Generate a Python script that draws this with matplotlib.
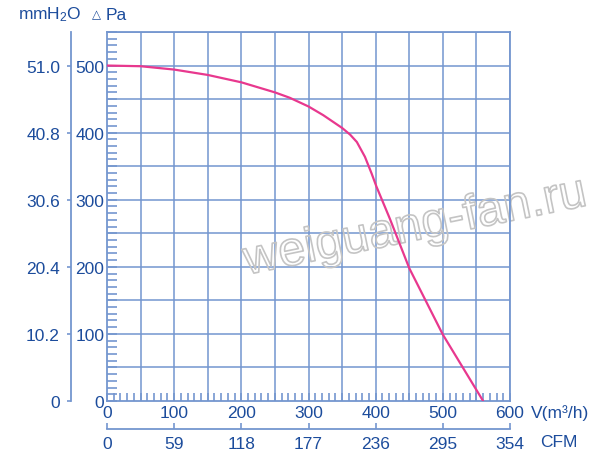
import matplotlib
matplotlib.use("Agg")
import matplotlib.pyplot as plt
import matplotlib.patheffects as pe
import numpy as np

plt.rcParams['font.family'] = ['Liberation Sans', 'DejaVu Sans']
plt.rcParams['mathtext.default'] = 'regular'

# data
flow_m3h = [0, 50, 100, 150, 200, 250, 272, 300, 322, 350, 362, 372, 384, 394, 401,
            421, 450, 500, 560]
pressure_pa = [500, 499, 494, 486, 475, 460, 452, 439, 426, 407, 397, 386, 364, 339, 320,
               272, 198, 99, 0]
x_ticks = [0, 100, 200, 300, 400, 500, 600]
cfm_labels = ['0', '59', '118', '177', '236', '295', '354']
y_ticks = [0, 100, 200, 300, 400, 500]
mmh2o_labels = ['0', '10.2', '20.4', '30.6', '40.8', '51.0']

TXT = '#1c4c9c'
GRID = '#7496cf'
CURVE = '#e8388e'
FS = 12.5

fig = plt.figure(figsize=(6, 4.6), dpi=100)
ax = fig.add_axes([107/600, 1-402/460, 403/600, 369/460])
ax.set_xlim(0, 600)
ax.set_ylim(0, 550)

for v in np.arange(50, 601, 50):
    ax.axvline(v, color=GRID, lw=1.3, alpha=0.85, zorder=1)
for v in np.arange(50, 551, 50):
    ax.axhline(v, color=GRID, lw=1.3, alpha=0.85, zorder=1)

ax.text(0.765, 0.47, 'weiguang-fan.ru', transform=ax.transAxes, fontsize=35,
        rotation=11.5, ha='center', va='center', color=(1, 1, 1, 0), zorder=2,
        path_effects=[pe.Stroke(linewidth=1.2, foreground='#c4c4c4')], clip_on=False)

ax.plot(flow_m3h, pressure_pa, color=CURVE, lw=1.6, zorder=3, solid_capstyle='round',
        solid_joinstyle='round')

for s in ['left', 'bottom', 'top', 'right']:
    ax.spines[s].set_color(GRID)
    ax.spines[s].set_linewidth(1.3)

ax.set_xticks(x_ticks)
ax.set_xticklabels([str(v) for v in x_ticks])
ax.set_xticks(np.arange(0, 601, 10), minor=True)
ax.set_yticks(y_ticks)
ax.set_yticklabels([str(v) for v in y_ticks])
ax.set_yticks(np.arange(0, 551, 10), minor=True)
ax.tick_params(axis='both', which='both', direction='in', color=GRID, width=1.2,
               labelcolor=TXT, labelsize=FS)
ax.tick_params(axis='x', which='both', length=6, pad=3)
ax.tick_params(axis='y', which='both', length=7, pad=2)

# mmH2O secondary axis
ay2 = ax.secondary_yaxis(-(107-71)/403)
ay2.set_yticks(y_ticks)
ay2.set_yticklabels(mmh2o_labels)
ay2.spines['left'].set_color(GRID)
ay2.spines['left'].set_linewidth(1.3)
ay2.tick_params(direction='out', length=3, width=1.2, color=GRID, labelcolor=TXT,
                labelsize=FS, pad=5)

# CFM secondary axis
ax2 = ax.secondary_xaxis(-(430-402)/369)
ax2.set_xticks(x_ticks)
ax2.set_xticklabels(cfm_labels)
ax2.spines['bottom'].set_color(GRID)
ax2.spines['bottom'].set_linewidth(1.3)
ax2.tick_params(direction='in', length=4, width=1.2, color=GRID, labelcolor=TXT,
                labelsize=FS, pad=5)

fig.text(18/600, 1-15/460, 'mmH$_2$O', color=TXT, fontsize=FS, ha='left', va='center')
fig.text(92/600, 1-15/460, '△', color=TXT, fontsize=8.5, ha='left', va='center',
         family=['DejaVu Sans'])
fig.text(106/600, 1-15/460, 'Pa', color=TXT, fontsize=FS, ha='left', va='center')
fig.text(531/600, 1-413/460, 'V(m³/h)', color=TXT, fontsize=FS, ha='left', va='center')
fig.text(540/600, 1-443/460, 'CFM', color=TXT, fontsize=FS, ha='left', va='center')

fig.savefig('out.png', dpi=100)
